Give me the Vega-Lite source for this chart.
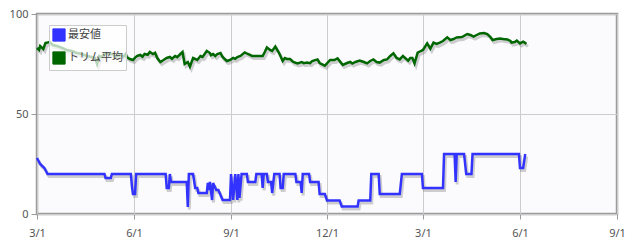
{
  "$schema": "https://vega.github.io/schema/vega-lite/v6.json",
  "width": 580,
  "height": 200,
  "autosize": {"type": "none"},
  "padding": {"left": 37, "top": 14, "right": 18, "bottom": 32},
  "background": "white",
  "config": {
    "font": "Noto Sans, Noto Sans CJK JP, sans-serif",
    "view": {"stroke": "#9c9c9c", "strokeWidth": 2.5, "fill": "#fbfbfe"}
  },
  "datasets": {
    "blue": [
      {"date": "2023-03-01", "value": 28},
      {"date": "2023-03-04", "value": 25},
      {"date": "2023-03-08", "value": 23},
      {"date": "2023-03-11", "value": 20},
      {"date": "2023-05-04", "value": 20},
      {"date": "2023-05-05", "value": 18},
      {"date": "2023-05-10", "value": 18},
      {"date": "2023-05-11", "value": 20},
      {"date": "2023-05-29", "value": 20},
      {"date": "2023-05-30", "value": 14},
      {"date": "2023-05-31", "value": 10},
      {"date": "2023-06-02", "value": 10},
      {"date": "2023-06-03", "value": 20},
      {"date": "2023-07-01", "value": 20},
      {"date": "2023-07-02", "value": 13},
      {"date": "2023-07-04", "value": 13},
      {"date": "2023-07-05", "value": 20},
      {"date": "2023-07-06", "value": 16},
      {"date": "2023-07-21", "value": 16},
      {"date": "2023-07-22", "value": 3.5},
      {"date": "2023-07-23", "value": 20},
      {"date": "2023-07-27", "value": 20},
      {"date": "2023-07-29", "value": 13},
      {"date": "2023-07-31", "value": 13},
      {"date": "2023-08-01", "value": 10.5},
      {"date": "2023-08-09", "value": 10.5},
      {"date": "2023-08-10", "value": 15.5},
      {"date": "2023-08-11", "value": 12},
      {"date": "2023-08-12", "value": 16},
      {"date": "2023-08-14", "value": 7},
      {"date": "2023-08-15", "value": 15.5},
      {"date": "2023-08-18", "value": 12},
      {"date": "2023-08-20", "value": 12},
      {"date": "2023-08-22", "value": 9.5},
      {"date": "2023-08-24", "value": 7},
      {"date": "2023-08-31", "value": 7},
      {"date": "2023-09-01", "value": 20},
      {"date": "2023-09-03", "value": 7},
      {"date": "2023-09-05", "value": 20},
      {"date": "2023-09-07", "value": 7},
      {"date": "2023-09-08", "value": 20},
      {"date": "2023-09-09", "value": 8},
      {"date": "2023-09-11", "value": 20},
      {"date": "2023-09-16", "value": 20},
      {"date": "2023-09-17", "value": 16},
      {"date": "2023-09-24", "value": 16},
      {"date": "2023-09-25", "value": 20},
      {"date": "2023-09-30", "value": 20},
      {"date": "2023-10-01", "value": 13},
      {"date": "2023-10-02", "value": 20},
      {"date": "2023-10-05", "value": 20},
      {"date": "2023-10-06", "value": 16},
      {"date": "2023-10-09", "value": 16},
      {"date": "2023-10-10", "value": 10.5},
      {"date": "2023-10-12", "value": 20},
      {"date": "2023-10-17", "value": 20},
      {"date": "2023-10-18", "value": 13},
      {"date": "2023-10-20", "value": 13},
      {"date": "2023-10-21", "value": 20},
      {"date": "2023-11-01", "value": 20},
      {"date": "2023-11-02", "value": 16},
      {"date": "2023-11-06", "value": 16},
      {"date": "2023-11-07", "value": 10.5},
      {"date": "2023-11-08", "value": 20},
      {"date": "2023-11-14", "value": 20},
      {"date": "2023-11-15", "value": 16},
      {"date": "2023-11-23", "value": 16},
      {"date": "2023-11-24", "value": 10},
      {"date": "2023-11-29", "value": 10},
      {"date": "2023-12-01", "value": 6.7},
      {"date": "2023-12-13", "value": 6.7},
      {"date": "2023-12-15", "value": 3.7},
      {"date": "2023-12-30", "value": 3.7},
      {"date": "2023-12-31", "value": 6.7},
      {"date": "2024-01-11", "value": 6.7},
      {"date": "2024-01-12", "value": 20},
      {"date": "2024-01-19", "value": 20},
      {"date": "2024-01-20", "value": 10},
      {"date": "2024-02-08", "value": 10},
      {"date": "2024-02-10", "value": 20},
      {"date": "2024-02-29", "value": 20},
      {"date": "2024-03-01", "value": 13},
      {"date": "2024-03-20", "value": 13},
      {"date": "2024-03-21", "value": 30},
      {"date": "2024-03-31", "value": 30},
      {"date": "2024-04-01", "value": 16},
      {"date": "2024-04-02", "value": 30},
      {"date": "2024-04-09", "value": 30},
      {"date": "2024-04-11", "value": 20},
      {"date": "2024-04-16", "value": 20},
      {"date": "2024-04-17", "value": 30},
      {"date": "2024-05-31", "value": 30},
      {"date": "2024-06-01", "value": 23},
      {"date": "2024-06-04", "value": 23},
      {"date": "2024-06-06", "value": 30}
    ],
    "green": [
      {"date": "2023-03-01", "value": 83},
      {"date": "2023-03-03", "value": 82},
      {"date": "2023-03-04", "value": 84},
      {"date": "2023-03-07", "value": 82.5},
      {"date": "2023-03-09", "value": 85.5},
      {"date": "2023-03-11", "value": 85.7},
      {"date": "2023-03-13", "value": 86},
      {"date": "2023-03-16", "value": 84.5},
      {"date": "2023-03-20", "value": 84},
      {"date": "2023-03-25", "value": 83},
      {"date": "2023-03-29", "value": 82},
      {"date": "2023-04-03", "value": 81.5},
      {"date": "2023-04-08", "value": 80.5},
      {"date": "2023-04-13", "value": 80},
      {"date": "2023-04-17", "value": 79},
      {"date": "2023-04-22", "value": 78.5},
      {"date": "2023-04-25", "value": 78},
      {"date": "2023-04-27", "value": 75},
      {"date": "2023-04-29", "value": 79},
      {"date": "2023-05-01", "value": 78.5},
      {"date": "2023-05-03", "value": 79.5},
      {"date": "2023-05-06", "value": 80.5},
      {"date": "2023-05-09", "value": 80},
      {"date": "2023-05-12", "value": 80},
      {"date": "2023-05-14", "value": 78.8},
      {"date": "2023-05-16", "value": 79},
      {"date": "2023-05-19", "value": 79.5},
      {"date": "2023-05-22", "value": 78.7},
      {"date": "2023-05-24", "value": 80},
      {"date": "2023-05-25", "value": 78.5},
      {"date": "2023-05-28", "value": 77.5},
      {"date": "2023-05-31", "value": 77},
      {"date": "2023-06-02", "value": 78.2},
      {"date": "2023-06-04", "value": 79},
      {"date": "2023-06-07", "value": 79.5},
      {"date": "2023-06-09", "value": 78.6},
      {"date": "2023-06-11", "value": 80},
      {"date": "2023-06-14", "value": 79.6},
      {"date": "2023-06-16", "value": 81},
      {"date": "2023-06-19", "value": 80},
      {"date": "2023-06-21", "value": 80.6},
      {"date": "2023-06-23", "value": 78},
      {"date": "2023-06-26", "value": 76},
      {"date": "2023-06-29", "value": 77},
      {"date": "2023-07-02", "value": 78},
      {"date": "2023-07-05", "value": 78.5},
      {"date": "2023-07-07", "value": 77.6},
      {"date": "2023-07-10", "value": 79},
      {"date": "2023-07-12", "value": 78.4},
      {"date": "2023-07-15", "value": 80},
      {"date": "2023-07-17", "value": 81},
      {"date": "2023-07-19", "value": 75},
      {"date": "2023-07-22", "value": 76},
      {"date": "2023-07-24", "value": 73.7},
      {"date": "2023-07-27", "value": 78},
      {"date": "2023-07-31", "value": 77},
      {"date": "2023-08-03", "value": 79},
      {"date": "2023-08-05", "value": 78.5},
      {"date": "2023-08-09", "value": 81.5},
      {"date": "2023-08-12", "value": 80.5},
      {"date": "2023-08-13", "value": 79.4},
      {"date": "2023-08-15", "value": 80},
      {"date": "2023-08-17", "value": 79},
      {"date": "2023-08-19", "value": 80},
      {"date": "2023-08-22", "value": 80.5},
      {"date": "2023-08-24", "value": 78.5},
      {"date": "2023-08-28", "value": 76.5},
      {"date": "2023-08-31", "value": 77},
      {"date": "2023-09-03", "value": 78},
      {"date": "2023-09-05", "value": 77.6},
      {"date": "2023-09-07", "value": 78.5},
      {"date": "2023-09-10", "value": 79},
      {"date": "2023-09-14", "value": 80.8},
      {"date": "2023-09-17", "value": 80},
      {"date": "2023-09-21", "value": 79},
      {"date": "2023-09-26", "value": 79},
      {"date": "2023-10-01", "value": 79},
      {"date": "2023-10-03", "value": 81},
      {"date": "2023-10-05", "value": 83.3},
      {"date": "2023-10-08", "value": 82},
      {"date": "2023-10-10", "value": 81.5},
      {"date": "2023-10-13", "value": 83.7},
      {"date": "2023-10-16", "value": 81},
      {"date": "2023-10-17", "value": 80},
      {"date": "2023-10-20", "value": 76.5},
      {"date": "2023-10-22", "value": 78},
      {"date": "2023-10-24", "value": 77.5},
      {"date": "2023-10-27", "value": 77.5},
      {"date": "2023-10-30", "value": 76},
      {"date": "2023-11-03", "value": 75.3},
      {"date": "2023-11-07", "value": 76},
      {"date": "2023-11-09", "value": 75.4},
      {"date": "2023-11-12", "value": 75.7},
      {"date": "2023-11-15", "value": 75.4},
      {"date": "2023-11-17", "value": 76.5},
      {"date": "2023-11-22", "value": 77.3},
      {"date": "2023-11-24", "value": 75.5},
      {"date": "2023-11-29", "value": 74.2},
      {"date": "2023-12-04", "value": 77},
      {"date": "2023-12-08", "value": 77},
      {"date": "2023-12-11", "value": 77.8},
      {"date": "2023-12-16", "value": 74.5},
      {"date": "2023-12-20", "value": 75.5},
      {"date": "2023-12-23", "value": 76},
      {"date": "2023-12-25", "value": 75.2},
      {"date": "2023-12-28", "value": 76},
      {"date": "2024-01-01", "value": 76.7},
      {"date": "2024-01-05", "value": 76},
      {"date": "2024-01-08", "value": 75.3},
      {"date": "2024-01-11", "value": 76.5},
      {"date": "2024-01-14", "value": 77.3},
      {"date": "2024-01-17", "value": 76},
      {"date": "2024-01-20", "value": 75.7},
      {"date": "2024-01-24", "value": 77},
      {"date": "2024-01-27", "value": 77.3},
      {"date": "2024-01-30", "value": 79},
      {"date": "2024-02-02", "value": 80.3},
      {"date": "2024-02-05", "value": 78},
      {"date": "2024-02-08", "value": 77.3},
      {"date": "2024-02-11", "value": 79},
      {"date": "2024-02-16", "value": 76.7},
      {"date": "2024-02-18", "value": 78},
      {"date": "2024-02-20", "value": 78},
      {"date": "2024-02-22", "value": 75.3},
      {"date": "2024-02-25", "value": 80.7},
      {"date": "2024-02-28", "value": 81.5},
      {"date": "2024-03-01", "value": 82},
      {"date": "2024-03-05", "value": 85.3},
      {"date": "2024-03-08", "value": 82.7},
      {"date": "2024-03-11", "value": 85.7},
      {"date": "2024-03-14", "value": 85},
      {"date": "2024-03-17", "value": 85.7},
      {"date": "2024-03-20", "value": 86.5},
      {"date": "2024-03-24", "value": 88.3},
      {"date": "2024-03-27", "value": 87},
      {"date": "2024-03-30", "value": 87.5},
      {"date": "2024-04-02", "value": 88.3},
      {"date": "2024-04-07", "value": 88.5},
      {"date": "2024-04-12", "value": 90},
      {"date": "2024-04-15", "value": 89.5},
      {"date": "2024-04-18", "value": 88.7},
      {"date": "2024-04-21", "value": 89.5},
      {"date": "2024-04-24", "value": 90.3},
      {"date": "2024-04-28", "value": 90.5},
      {"date": "2024-05-01", "value": 90},
      {"date": "2024-05-04", "value": 88.5},
      {"date": "2024-05-06", "value": 87},
      {"date": "2024-05-10", "value": 87.5},
      {"date": "2024-05-13", "value": 87.8},
      {"date": "2024-05-16", "value": 87.5},
      {"date": "2024-05-20", "value": 87.3},
      {"date": "2024-05-23", "value": 86.5},
      {"date": "2024-05-24", "value": 85.7},
      {"date": "2024-05-27", "value": 86},
      {"date": "2024-05-29", "value": 86.7},
      {"date": "2024-06-01", "value": 85.3},
      {"date": "2024-06-04", "value": 86.2},
      {"date": "2024-06-06", "value": 85.5},
      {"date": "2024-06-07", "value": 85}
    ]
  },
  "encoding": {
    "x": {
      "field": "date",
      "type": "temporal",
      "title": null,
      "scale": {
        "type": "utc",
        "domain": [
          {"year": 2023, "month": 3, "date": 1, "utc": true},
          {"year": 2024, "month": 9, "date": 1, "utc": true}
        ]
      },
      "axis": {
        "values": [
          {"year": 2023, "month": 3, "date": 1, "utc": true},
          {"year": 2023, "month": 6, "date": 1, "utc": true},
          {"year": 2023, "month": 9, "date": 1, "utc": true},
          {"year": 2023, "month": 12, "date": 1, "utc": true},
          {"year": 2024, "month": 3, "date": 1, "utc": true},
          {"year": 2024, "month": 6, "date": 1, "utc": true},
          {"year": 2024, "month": 9, "date": 1, "utc": true}
        ],
        "labelExpr": "utcFormat(datum.value, '%-m/%-d')",
        "domain": false,
        "grid": true,
        "gridColor": "#cccccc",
        "gridWidth": 1,
        "tickColor": "#9c9c9c",
        "tickSize": 5,
        "tickWidth": 1,
        "labelColor": "#555555",
        "labelFontSize": 11,
        "labelPadding": 8,
        "labelFlush": false,
        "labelOverlap": false
      }
    },
    "y": {
      "field": "value",
      "type": "quantitative",
      "title": null,
      "scale": {"domain": [0, 100], "nice": false},
      "axis": {
        "values": [0, 50, 100],
        "domain": false,
        "grid": true,
        "gridColor": "#cccccc",
        "tickColor": "#9c9c9c",
        "tickSize": 6,
        "labelColor": "#555555",
        "labelFontSize": 11,
        "labelPadding": 3
      }
    }
  },
  "layer": [
    {
      "data": {"name": "green"},
      "mark": {"type": "line", "color": "#777777", "opacity": 0.35, "strokeWidth": 3, "xOffset": 1.5, "yOffset": 2.5}
    },
    {
      "data": {"name": "blue"},
      "mark": {"type": "line", "color": "#777777", "opacity": 0.35, "strokeWidth": 3, "xOffset": 1.5, "yOffset": 2.5}
    },
    {
      "data": {"name": "green"},
      "mark": {"type": "line", "strokeWidth": 2.5},
      "encoding": {
        "color": {
          "datum": "トリム平均",
          "type": "nominal",
          "scale": {"domain": ["最安値", "トリム平均"], "range": ["#3333ff", "#006600"]},
          "legend": {
            "title": null,
            "orient": "none",
            "legendX": 12,
            "legendY": 11,
            "symbolType": "square",
            "symbolSize": 150,
            "labelFontSize": 11,
            "labelColor": "#444444",
            "labelOffset": 2,
            "rowPadding": 5,
            "padding": 3,
            "fillColor": "rgba(255,255,255,0.72)",
            "strokeColor": "#cccccc",
            "encode": {
              "symbols": {
                "update": {
                  "fill": {"scale": "color", "field": "value"},
                  "fillOpacity": {"value": 1},
                  "stroke": {"value": "#cccccc"},
                  "strokeWidth": {"value": 1}
                }
              }
            }
          }
        }
      }
    },
    {
      "data": {"name": "blue"},
      "mark": {"type": "line", "strokeWidth": 2.5},
      "encoding": {
        "color": {"datum": "最安値", "type": "nominal"}
      }
    }
  ]
}
